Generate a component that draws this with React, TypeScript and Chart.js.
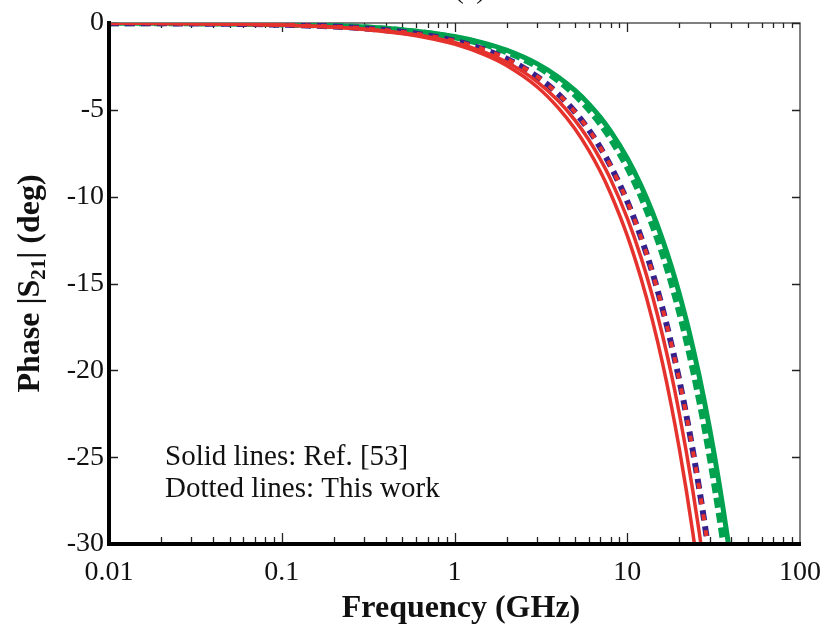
import { useEffect, useRef } from "react";
import { Chart, registerables } from "chart.js";
Chart.register(...registerables);

// Frequency samples (GHz)
const freqGHz = [0.01, 0.03, 0.1, 0.3, 0.6, 1, 1.5, 2, 3, 4, 5, 6, 7, 8, 10, 12, 14, 16, 18, 20, 22, 24, 26, 28, 30, 32, 34, 36, 38, 40];

// Solid lines: Ref. [53]
const refRedA = [-0.01, -0.04, -0.12, -0.37, -0.73, -1.22, -1.84, -2.45, -3.67, -4.9, -6.12, -7.35, -8.57, -9.8, -12.24, -14.69, -17.14, -19.59, -22.04, -24.49, -26.94, -29.39, -31.84, null, null, null, null, null, null, null];
const refRedB = [-0.01, -0.03, -0.11, -0.34, -0.67, -1.12, -1.69, -2.25, -3.37, -4.49, -5.62, -6.74, -7.87, -8.99, -11.24, -13.48, -15.73, -17.98, -20.22, -22.47, -24.72, -26.97, -29.21, -31.46, null, null, null, null, null, null];
const refGreen = [-0.01, -0.02, -0.08, -0.23, -0.47, -0.78, -1.17, -1.56, -2.34, -3.12, -3.9, -4.67, -5.45, -6.23, -7.79, -9.35, -10.91, -12.47, -14.02, -15.58, -17.14, -18.7, -20.26, -21.82, -23.38, -24.93, -26.49, -28.05, -29.61, -31.17];

// Dotted lines: This work
const workBlue = [-0.01, -0.03, -0.1, -0.31, -0.62, -1.03, -1.54, -2.05, -3.08, -4.11, -5.14, -6.16, -7.19, -8.22, -10.27, -12.33, -14.38, -16.44, -18.49, -20.55, -22.6, -24.66, -26.71, -28.77, -30.82, null, null, null, null, null];
const workRed = [-0.01, -0.03, -0.1, -0.31, -0.62, -1.03, -1.54, -2.05, -3.08, -4.11, -5.14, -6.16, -7.19, -8.22, -10.27, -12.33, -14.38, -16.44, -18.49, -20.55, -22.6, -24.66, -26.71, -28.77, -30.82, null, null, null, null, null];
const workGreen = [-0.01, -0.02, -0.08, -0.25, -0.5, -0.83, -1.25, -1.67, -2.5, -3.33, -4.17, -5.0, -5.83, -6.67, -8.33, -10.0, -11.67, -13.33, -15.0, -16.67, -18.33, -20.0, -21.67, -23.33, -25.0, -26.67, -28.33, -30.0, -31.67, null];

const xTickValues = [0.01, 0.1, 1, 10, 100];
const xTickLabels = ["0.01", "0.1", "1", "10", "100"];
const yTickValues = [0, -5, -10, -15, -20, -25, -30];
const legendLines = ["Solid lines: Ref. [53]", "Dotted lines: This work"];
const xTitle = "Frequency (GHz)";
const yTitleParts = ["Phase |S", "21", "| (deg)"];
const panelLabel = "(c)";

const SERIF = '"Liberation Serif", "Times New Roman", serif';
const RED = "#e5322c";
const BLUE = "#35208c";
const GREEN = "#00a24f";

const toPts = (ys: (number | null)[]) =>
  freqGHz.map((f, i) => ({ x: f, y: ys[i] })).filter((p) => p.y !== null);

export default function App() {
  const ref = useRef<HTMLCanvasElement>(null);

  useEffect(() => {
    document.body.style.margin = "0";
    const canvas = ref.current!;

    const framePlugin = {
      id: "frame",
      beforeDatasetsDraw(chart: any) {
        const { ctx, chartArea: a, scales } = chart;
        const xs = scales.x;
        const ys = scales.y;
        ctx.save();
        ctx.strokeStyle = "#555";
        ctx.lineWidth = 1.5;
        ctx.beginPath();
        ctx.moveTo(a.left, a.top);
        ctx.lineTo(a.right, a.top);
        ctx.lineTo(a.right, a.bottom);
        ctx.stroke();
        ctx.strokeStyle = "#222";
        ctx.lineWidth = 1.3;
        ctx.beginPath();
        for (let d = 0.01; d < 99; d *= 10) {
          for (let m = 1; m <= 9; m++) {
            const v = m * d;
            if (v <= 0.01 * 1.0001) continue;
            const px = Math.round(xs.getPixelForValue(v)) + 0.5;
            const len = m === 1 ? 9 : 5;
            ctx.moveTo(px, a.top);
            ctx.lineTo(px, a.top + len);
            ctx.moveTo(px, a.bottom);
            ctx.lineTo(px, a.bottom - len - 2);
          }
        }
        for (const v of yTickValues) {
          const py = Math.round(ys.getPixelForValue(v)) + 0.5;
          ctx.moveTo(a.right, py);
          ctx.lineTo(a.right - 8, py);
          ctx.moveTo(a.left, py);
          ctx.lineTo(a.left + 9, py);
        }
        ctx.stroke();
        ctx.restore();
      },
      afterDatasetsDraw(chart: any) {
        const { ctx, chartArea: a } = chart;
        ctx.save();
        ctx.strokeStyle = "#000";
        ctx.lineWidth = 4;
        ctx.beginPath();
        ctx.moveTo(a.left, a.top - 2);
        ctx.lineTo(a.left, a.bottom);
        ctx.lineTo(a.right + 1, a.bottom);
        ctx.stroke();
        ctx.restore();
      },
      afterDraw(chart: any) {
        const { ctx, chartArea: a } = chart;
        ctx.save();
        ctx.fillStyle = "#111";
        ctx.textBaseline = "alphabetic";
        ctx.font = `29px ${SERIF}`;
        ctx.textAlign = "left";
        ctx.fillText(legendLines[0], 165, 465);
        ctx.fillText(legendLines[1], 165, 497);
        ctx.font = `28px ${SERIF}`;
        ctx.textAlign = "center";
        ctx.fillText(panelLabel, 470, -2);
        ctx.font = `bold 32px ${SERIF}`;
        ctx.textAlign = "center";
        ctx.fillText(xTitle, 461, 617);
        ctx.translate(39, (a.top + a.bottom) / 2);
        ctx.rotate(-Math.PI / 2);
        const big = `bold 32px ${SERIF}`;
        const small = `bold 21px ${SERIF}`;
        ctx.font = big;
        const w0 = ctx.measureText(yTitleParts[0]).width;
        const w2 = ctx.measureText(yTitleParts[2]).width;
        ctx.font = small;
        const w1 = ctx.measureText(yTitleParts[1]).width;
        let x = -(w0 + w1 + w2) / 2;
        ctx.textAlign = "left";
        ctx.font = big;
        ctx.fillText(yTitleParts[0], x, 0);
        x += w0;
        ctx.font = small;
        ctx.fillText(yTitleParts[1], x, 6);
        x += w1;
        ctx.font = big;
        ctx.fillText(yTitleParts[2], x, 0);
        ctx.restore();
      },
    };

    const mk = (label: string, ys: (number | null)[], color: string, width: number, dash: number[] = [], off = 0) => ({
      label,
      data: toPts(ys),
      borderColor: color,
      backgroundColor: color,
      borderWidth: width,
      borderDash: dash,
      borderDashOffset: off,
      pointRadius: 0,
      fill: false,
      cubicInterpolationMode: "monotone" as const,
    });

    const chart = new Chart(canvas, {
      type: "line",
      data: {
        datasets: [
          mk("Ref red A", refRedA, RED, 3.5),
          mk("Ref red B", refRedB, RED, 3.5),
          mk("This work red", workRed, RED, 4, [6, 10], 12),
          mk("This work blue", workBlue, BLUE, 6, [10, 6], 0),
          mk("This work green", workGreen, GREEN, 6, [10, 5], 0),
          mk("Ref green", refGreen, GREEN, 5),
        ],
      },
      options: {
        responsive: false,
        animation: false,
        devicePixelRatio: 1,
        layout: { padding: { top: 23, right: 26, left: 0, bottom: 0 } },
        plugins: { legend: { display: false }, tooltip: { enabled: false } },
        scales: {
          x: {
            type: "logarithmic",
            min: 0.01,
            max: 100,
            grid: { display: false, drawTicks: false },
            border: { display: false },
            afterBuildTicks: (s: any) => {
              s.ticks = xTickValues.map((v) => ({ value: v }));
            },
            afterFit: (s: any) => {
              s.height = 85;
            },
            ticks: {
              autoSkip: false,
              maxRotation: 0,
              minRotation: 0,
              padding: 12,
              color: "#111",
              font: { family: SERIF, size: 28 },
              callback: (v: any) => {
                const i = xTickValues.findIndex((t) => Math.abs(t - Number(v)) < 1e-9 * Math.max(1, t));
                return i >= 0 ? xTickLabels[i] : "";
              },
            },
          },
          y: {
            type: "linear",
            min: -30,
            max: 0,
            grid: { display: false, drawTicks: false },
            border: { display: false },
            afterBuildTicks: (s: any) => {
              s.ticks = yTickValues.map((v) => ({ value: v }));
            },
            afterFit: (s: any) => {
              s.width = 109;
            },
            ticks: {
              padding: 5,
              color: "#111",
              font: { family: SERIF, size: 28 },
              callback: (v: any) => String(v),
            },
          },
        },
      },
      plugins: [framePlugin],
    });
    return () => chart.destroy();
  }, []);

  return <canvas ref={ref} width={833} height={629} style={{ display: "block" }} />;
}
